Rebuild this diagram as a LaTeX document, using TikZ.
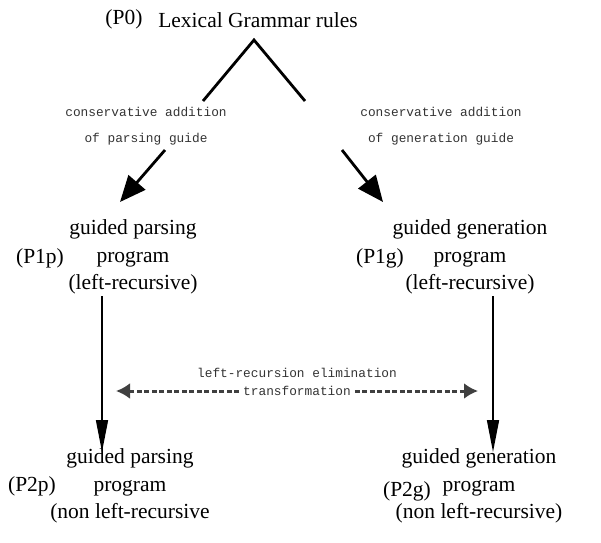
\documentclass[tikz,border=0pt]{standalone}
\usepackage{fontspec}
\setmainfont{Liberation Serif}
\newfontfamily\monof{Liberation Mono}
\usetikzlibrary{arrows.meta}
\tikzset{
  txt/.style={font=\fontsize{21.5}{27.7}\selectfont, align=center, inner sep=0pt, anchor=center},
  lab/.style={font=\fontsize{21.5}{24}\selectfont, inner sep=0pt},
  mono/.style={font=\monof\fontsize{12.8}{26}\selectfont, align=center, inner sep=0pt, text=black!80},
  leg/.style={line width=2.8pt},
  diag/.style={line width=2.8pt, -{Triangle[length=26pt,width=22pt]}},
  vert/.style={line width=1.6pt, -{Triangle[length=32pt,width=12pt]}},
  dash2/.style={line width=3pt, dash pattern=on 5pt off 2.5pt, black!75,
     -{Latex[length=14pt,width=16pt]}}
}
\begin{document}
\begin{tikzpicture}[x=1pt,y=-1pt]
\useasboundingbox (0,0) rectangle (601,542);
% P0
\node[lab] (p0l) at (124,19) {(P0)};
\node[lab] (p0) at (258,20) {Lexical Grammar rules};
\coordinate (apex) at (254,40);
\coordinate (legl) at (203,101);
\coordinate (legr) at (305,101);
\draw[leg, line join=miter] (legl) -- (apex) -- (legr);
% guide labels
\node[mono] (gl) at (146,126) {conservative addition\\of parsing guide};
\node[mono] (gr) at (441,126) {conservative addition\\of generation guide};
\coordinate (dl0) at (165,150);
\coordinate (dl1) at (120,202);
\coordinate (dr0) at (342,150);
\coordinate (dr1) at (383,202);
\draw[diag] (dl0) -- (dl1);
\draw[diag] (dr0) -- (dr1);
% P1
\node[txt] (p1p) at (133,257) {guided parsing\\program\\(left-recursive)};
\node[lab] (p1pl) at (40,258) {(P1p)};
\node[txt] (p1g) at (470,257) {guided generation\\program\\(left-recursive)};
\node[lab] (p1gl) at (380,258) {(P1g)};
% P2
\node[txt] (p2p) at (130,486) {guided parsing\\program\\(non left-recursive};
\node[lab] (p2pl) at (32,486) {(P2p)};
\node[txt] (p2g) at (479,486) {guided generation\\program\\(non left-recursive)};
\node[lab] (p2gl) at (407,491) {(P2g)};
% vertical arrows
\coordinate (vl0) at (102,296);
\coordinate (vl1) at (102,452);
\coordinate (vr0) at (493,296);
\coordinate (vr1) at (493,452);
\draw[vert] (vl0) -- (vl1);
\draw[vert] (vr0) -- (vr1);
% transformation
\node[mono] (tr1) at (297,373) {left-recursion elimination};
\node[mono, inner xsep=4pt] (tr2) at (297,391) {transformation};
\coordinate (tl) at (116,391);
\coordinate (trr) at (478,391);
\draw[dash2] (tr2.west) -- (tl);
\draw[dash2] (tr2.east) -- (trr);
\end{tikzpicture}
\end{document}
